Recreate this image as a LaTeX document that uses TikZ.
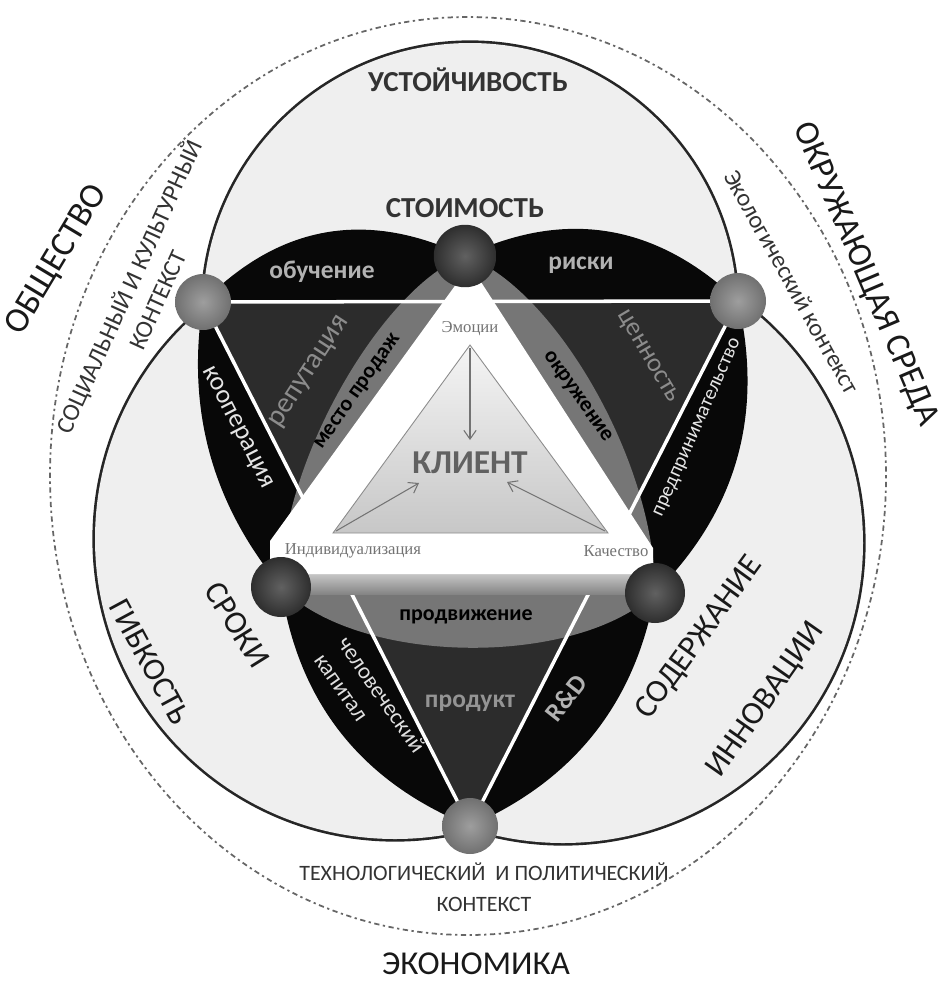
\documentclass[tikz,border=0pt]{standalone}
\usepackage{fontspec}
\setmainfont{Carlito}
\newfontfamily\trfont{Liberation Serif}
\usepackage{tikz}
\usetikzlibrary{arrows.meta}
\definecolor{circfill}{RGB}{239,239,239}
\definecolor{bandblack}{RGB}{8,8,8}
\definecolor{coredark}{RGB}{44,44,44}
\definecolor{lensgray}{RGB}{118,118,118}
\tikzset{
  ring/.style={draw=black!60, line width=1pt, dash pattern=on 1.3pt off 2pt on 3pt off 2pt},
  circline/.style={draw=black!85, line width=3pt},
  whiteline/.style={draw=white, line width=2pt},
  darkball/.style={circle, minimum size=1.2cm, inner sep=0pt,
    shading=radial, inner color=black!62, outer color=black!82},
  lightball/.style={circle, minimum size=1.12cm, inner sep=0pt,
    shading=radial, inner color=black!38, outer color=black!56},
  capword/.style={font=\fontsize{19}{21}\selectfont, text=black!90},
  topword/.style={font=\bfseries\fontsize{16.5}{18}\selectfont, text=black!80},
  ctxword/.style={font=\fontsize{14}{18}\selectfont, text=black!80, align=center},
  bandword/.style={font=\fontsize{15}{16}\selectfont},
  lensword/.style={font=\bfseries\fontsize{12.5}{14}\selectfont, text=black},
  cornerword/.style={font=\trfont\fontsize{9.5}{11}\selectfont, text=black!55},
  innertri/.style={draw=black!45, line width=0.5pt, top color=black!4, bottom color=black!22},
  clarrow/.style={-{Straight Barb[length=5pt, width=7pt]}, draw=black!55, line width=0.6pt}
}
\begin{document}
\begin{tikzpicture}[x=0.02cm, y=-0.02cm]
  \useasboundingbox (0,0) rectangle (944,981);

  % ── Key points ─────────────────────────────────────────────────────
  \coordinate (ul)  at (203,302);
  \coordinate (ur)  at (738,301);
  \coordinate (bot) at (470,826);
  \coordinate (top) at (465,256);
  \coordinate (bl)  at (281,587);
  \coordinate (br)  at (655,593);

  % ── Outer dotted ring ──────────────────────────────────────────────
  \draw[ring] (468,476) ellipse [x radius=418, y radius=459];

  % ── Three circles ──────────────────────────────────────────────────
  \draw[circline] (470,310) circle [radius=267];
  \draw[circline] (395,539) circle [radius=300];
  \draw[circline] (563,543) circle [radius=300];
  \fill[circfill] (470,310) circle [radius=267];
  \fill[circfill] (395,539) circle [radius=300];
  \fill[circfill] (563,543) circle [radius=300];

  % ── Overlaps ───────────────────────────────────────────────────────
  \fill[bandblack] (ul) .. controls (279,225) and (366,209) .. (top)
    .. controls (566,208) and (657,224) .. (ur)
    .. controls (764,414) and (737,511) .. (br)
    .. controls (635,704) and (573,781) .. (bot)
    .. controls (361,782) and (298,702) .. (bl)
    .. controls (212,504) and (186,409) .. (ul) -- cycle;
  \fill[coredark] (ul) -- (ur) -- (bot) -- cycle;
  \fill[lensgray] (top) .. controls (385,285) and (280,460) .. (bl)
    .. controls (360,667) and (578,667) .. (br)
    .. controls (656,460) and (551,285) .. (top) -- cycle;

  % white links between outer points
  \draw[whiteline] (ul) -- (ur);
  \draw[whiteline] (ul) -- (bot);
  \draw[whiteline] (ur) -- (bot);

  % ── Client triangle ────────────────────────────────────────────────
  \shade[top color=black!20, bottom color=black!48] (290,572) rectangle (635,594);
  \fill[white] (470,265) -- (653,548) -- (653,574) -- (270,574) -- (270,541) -- cycle;
  \draw[innertri] (470,345) -- (608,533) -- (333,533) -- cycle;

  \coordinate (emo)  at (470,348);
  \coordinate (ind)  at (336,531);
  \coordinate (kach) at (605,531);
  \coordinate (t1)   at (470,440);
  \coordinate (t2)   at (419,483);
  \coordinate (t3)   at (507,482);
  \draw[clarrow] (emo) -- (t1);
  \draw[clarrow] (ind) -- (t2);
  \draw[clarrow] (kach) -- (t3);

  \node[font=\bfseries\fontsize{19}{21}\selectfont, text=black!62] (klient) at (470,463) {КЛИЕНТ};
  \node[cornerword] (emot) at (470,329) {Эмоции};
  \node[cornerword] (indt) at (353,551) {Индивидуализация};
  \node[cornerword] (kact) at (616,551) {Качество};

  % ── Balls ──────────────────────────────────────────────────────────
  \node[lightball] (ulb)  at (ul)  {};
  \node[lightball] (urb)  at (ur)  {};
  \node[lightball] (botb) at (bot) {};
  \node[darkball, minimum size=1.25cm] (topb) at (top) {};
  \node[darkball] (blb) at (bl) {};
  \node[darkball] (brb) at (br) {};

  % ── Band labels ────────────────────────────────────────────────────
  \node[bandword, font=\bfseries\fontsize{14.5}{16}\selectfont, text=black!30] (obuch) at (322,272) {обучение};
  \node[bandword, font=\bfseries\fontsize{14.5}{16}\selectfont, text=black!30] (riski) at (581,265) {риски};
  \node[bandword, font=\fontsize{16.5}{18}\selectfont, text=black!45, rotate=57] (reput) at (310,372) {репутация};
  \node[bandword, text=black!45, rotate=-59.5] (tsenn) at (647,357) {ценность};
  \node[bandword, text=black!10, rotate=-63] (koop) at (237,428) {кооперация};
  \node[bandword, font=\fontsize{11.5}{13}\selectfont, text=black!10, rotate=66] (predpr) at (698,428) {предпринимательство};
  \node[bandword, font=\bfseries\fontsize{14.5}{16}\selectfont, text=black!42] (produkt) at (470,703) {продукт};
  \node[bandword, font=\fontsize{13}{16.4}\selectfont, text=black!12, rotate=-55, align=left] (chel) at (370,703) {человеческий\\капитал};
  \node[bandword, font=\bfseries\fontsize{15}{16}\selectfont, text=black!30, rotate=52] (rnd) at (566,698) {R\&D};
  \node[lensword, rotate=55] (mesto) at (358,392) {место продаж};
  \node[lensword, rotate=-55] (okruzh) at (577,397) {окружение};
  \node[lensword] (prodv) at (466,617) {продвижение};

  % ── Circle labels ──────────────────────────────────────────────────
  \node[topword] (ustoy) at (468,80) {УСТОЙЧИВОСТЬ};
  \node[topword] (stoim) at (465,208) {СТОИМОСТЬ};
  \node[capword, font=\fontsize{18}{20}\selectfont, rotate=-61.7] (gibk) at (150,662) {ГИБКОСТЬ};
  \node[capword, font=\fontsize{18.5}{20}\selectfont, rotate=-58] (sroki) at (237,625) {СРОКИ};
  \node[capword, font=\fontsize{18.5}{20}\selectfont, rotate=54] (soder) at (700,638) {СОДЕРЖАНИЕ};
  \node[capword, font=\fontsize{18.5}{20}\selectfont, rotate=55] (innov) at (766,700) {ИННОВАЦИИ};

  % ── Outer labels ───────────────────────────────────────────────────
  \node[capword, font=\fontsize{20}{22}\selectfont, rotate=59] (obsh) at (57,260) {ОБЩЕСТВО};
  \node[capword, font=\fontsize{19.5}{22}\selectfont, rotate=-67] (sreda) at (865,274) {ОКРУЖАЮЩАЯ СРЕДА};
  \node[capword] (ekon) at (476,964) {ЭКОНОМИКА};
  \node[ctxword, rotate=65.5] (soc) at (142,293) {СОЦИАЛЬНЫЙ И КУЛЬТУРНЫЙ\\КОНТЕКСТ};
  \node[ctxword, rotate=-60.8] (ekol) at (792,282) {Экологический контекст};
  \node[ctxword, font=\fontsize{12.5}{17.6}\selectfont] (tech) at (484,887) {ТЕХНОЛОГИЧЕСКИЙ~~И ПОЛИТИЧЕСКИЙ\\КОНТЕКСТ};
\end{tikzpicture}
\end{document}
